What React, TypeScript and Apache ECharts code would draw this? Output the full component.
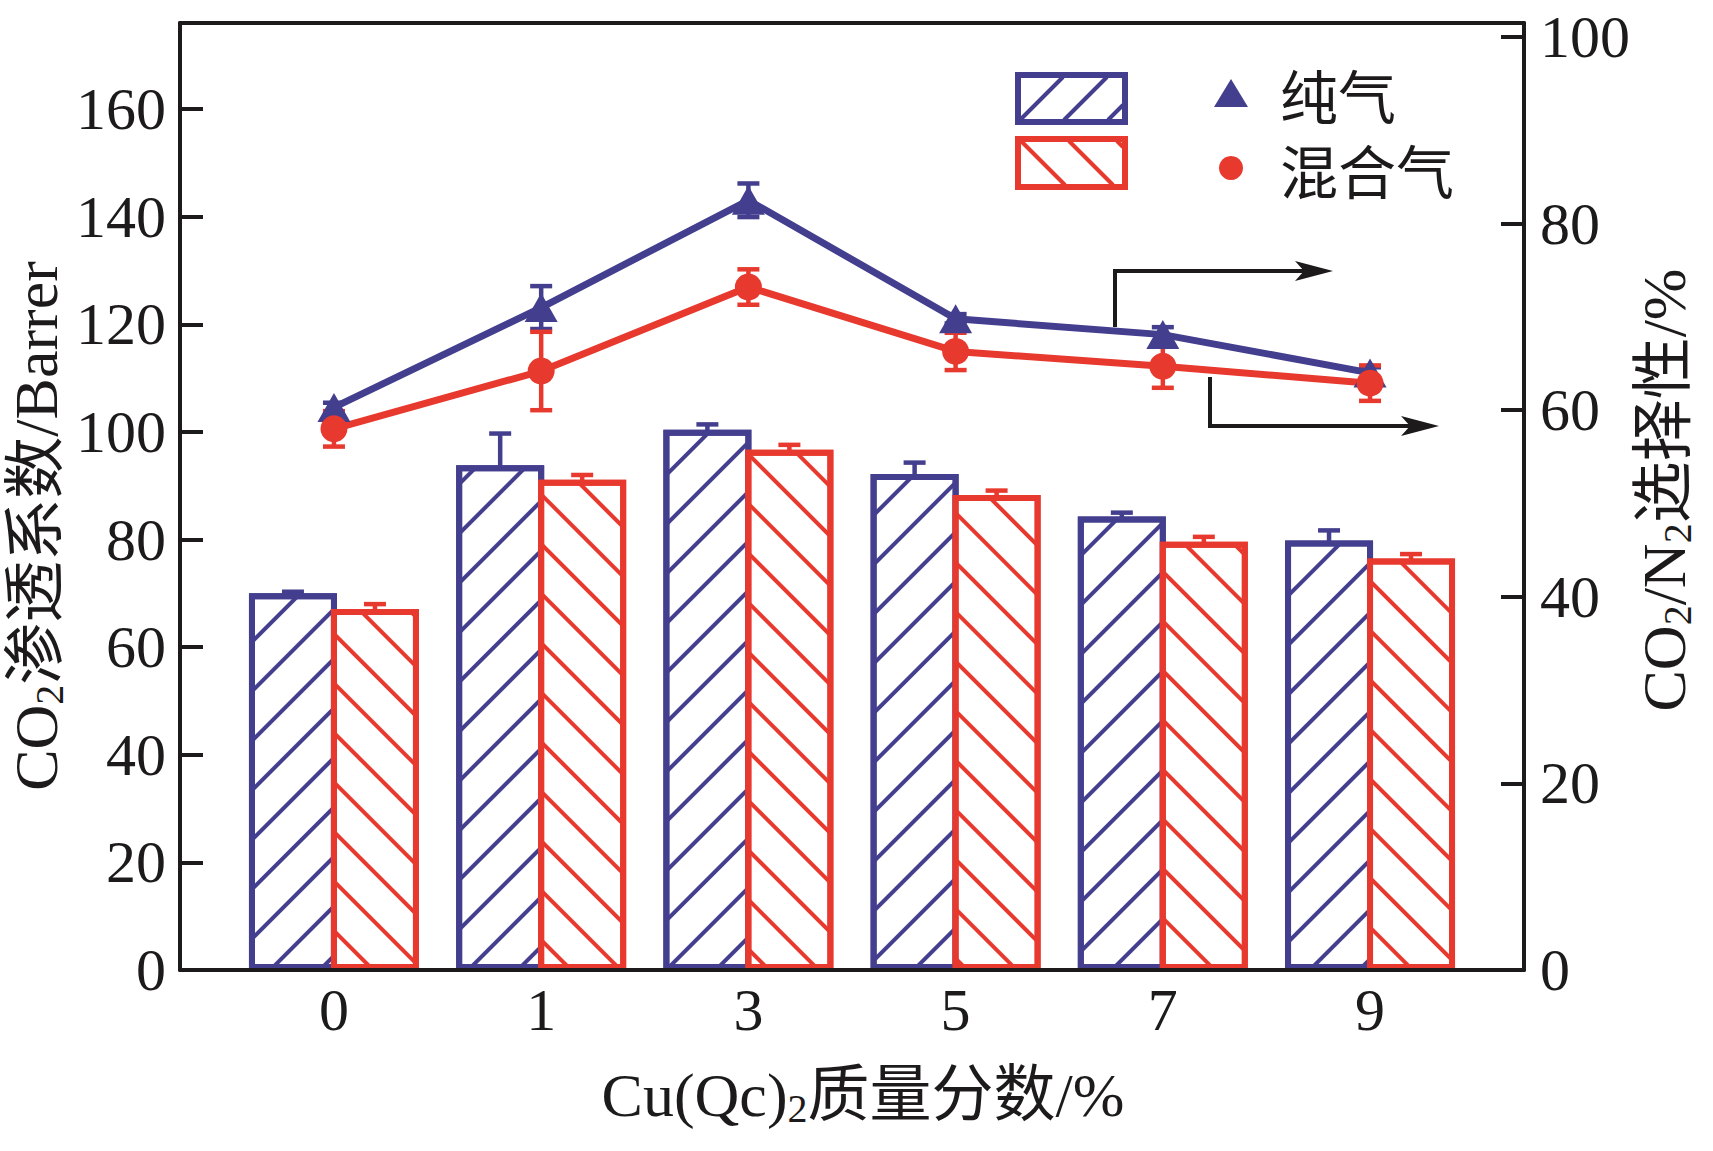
import React, { useEffect, useRef } from 'react';
import * as echarts from 'echarts';

// ---------------- data ----------------
const categories = ['0', '1', '3', '5', '7', '9'];

// CO2 permeability (Barrer), left axis
const pureBar = [70.0, 93.8, 100.4, 92.2, 84.3, 79.8];
const pureBarErr = [0.3, 5.9, 1.0, 2.1, 0.7, 1.9];
const mixBar = [67.1, 91.1, 96.7, 88.3, 79.6, 76.5];
const mixBarErr = [0.9, 0.9, 0.9, 0.8, 0.9, 0.8];

// CO2/N2 selectivity, right axis
const pureSel = [60.3, 71.0, 82.5, 69.8, 68.1, 64.0];
const pureSelErr = [0.5, 2.3, 1.8, 0.5, 0.8, 0.6];
const mixSel = [58.0, 64.2, 73.2, 66.3, 64.7, 62.9];
const mixSelErr = [1.9, 4.2, 1.9, 2.0, 2.3, 1.9];

const leftTickStep = 20;
const rightTickStep = 20;

// ---------------- style ----------------
const BLUE = '#433e8e';
const RED = '#e8392e';
const INK = '#1c1a1a';
const SERIF = '"Liberation Serif", "Times New Roman", "Noto Sans CJK SC", serif';
const CJK = '"Noto Sans CJK SC", sans-serif';
const MIXED = '"Liberation Serif", "Noto Sans CJK SC", serif';

function hatchLines(x0: number, y0: number, x1: number, y1: number, step: number, dir: '/' | '\\', c0: number, color: string) {
  const out: any[] = [];
  if (dir === '/') {
    // x + y = c
    for (let c = c0; c < x1 + y1; c += step) {
      const xa = Math.max(x0, c - y1);
      const xb = Math.min(x1, c - y0);
      if (xb - xa > 0.5) out.push({ type: 'line', shape: { x1: xa, y1: c - xa, x2: xb, y2: c - xb }, style: { stroke: color, lineWidth: 4 } });
    }
  } else {
    // x - y = c
    for (let c = c0; c < x1 - y0; c += step) {
      const xa = Math.max(x0, c + y0);
      const xb = Math.min(x1, c + y1);
      if (xb - xa > 0.5) out.push({ type: 'line', shape: { x1: xa, y1: xa - c, x2: xb, y2: xb - c }, style: { stroke: color, lineWidth: 4 } });
    }
  }
  return out;
}

function errSeries(vals: number[], errs: number[], color: string, yAxisIndex: number, offsetPx: number) {
  return {
    type: 'custom',
    xAxisIndex: 0,
    yAxisIndex,
    data: vals.map((v, i) => [i, v, errs[i]]),
    encode: { x: 0, y: 1 },
    silent: true,
    renderItem: (params: any, api: any) => {
      const x = api.value(0);
      const y = api.value(1);
      const e = api.value(2);
      const hi = api.coord([x, y + e]);
      const lo = api.coord([x, y - e]);
      const cx = hi[0] + offsetPx;
      const hw = 11;
      const st = { stroke: color, lineWidth: 4.5 };
      return {
        type: 'group',
        children: [
          { type: 'line', shape: { x1: cx, y1: hi[1], x2: cx, y2: lo[1] }, style: st },
          { type: 'line', shape: { x1: cx - hw, y1: hi[1], x2: cx + hw, y2: hi[1] }, style: st },
          { type: 'line', shape: { x1: cx - hw, y1: lo[1], x2: cx + hw, y2: lo[1] }, style: st },
        ],
      };
    },
  };
}

export default function App() {
  const ref = useRef<HTMLDivElement>(null);
  useEffect(() => {
    if (!ref.current) return;
    const chart = echarts.init(ref.current, undefined, { renderer: 'svg' });

    const xMin = -0.743;
    const xMax = 5.743;
    const tickLabel = { fontSize: 60, fontFamily: SERIF, color: INK };
    const axisLine = { show: true, onZero: false, lineStyle: { color: INK, width: 4 } };

    const richBase = {
      a: { fontSize: 62, fontFamily: MIXED, fill: INK },
      s: { fontSize: 40, fontFamily: SERIF, fill: INK, padding: [26, 0, 0, 0] },
    };

    const legendBlue = { x0: 1018, y0: 75, w: 107, h: 47 };
    const legendRed = { x0: 1018, y0: 139, w: 107, h: 48 };

    const barStyle = (color: string, rotation: number) => ({
      color: '#ffffff',
      borderColor: color,
      borderWidth: 6,
      decal: {
        symbol: 'rect',
        symbolSize: 1,
        color,
        dashArrayX: [1, 0],
        dashArrayY: [4, 31],
        rotation,
      },
    });

    const BAR_W = 88;
    const BAR_GAP = '-6.82%';
    const BAR_OFF = 41;

    const option: any = {
      animation: false,
      backgroundColor: '#ffffff',
      grid: { left: 180, top: 23, width: 1344, height: 947, outerBoundsMode: 'none', containLabel: false },
      xAxis: [
        {
          type: 'value',
          position: 'bottom',
          min: xMin,
          max: xMax,
          z: 10,
          axisLine,
          axisTick: { show: false },
          splitLine: { show: false },
          axisLabel: {
            ...tickLabel,
            margin: 10,
            customValues: [0, 1, 2, 3, 4, 5],
            formatter: (v: number) => (Number.isInteger(v) && categories[v] !== undefined ? categories[v] : ''),
          },
        },
        {
          type: 'value',
          position: 'top',
          min: xMin,
          max: xMax,
          z: 10,
          axisLine,
          axisTick: { show: false },
          axisLabel: { show: false },
          splitLine: { show: false },
        },
      ],
      yAxis: [
        {
          type: 'value',
          position: 'left',
          min: 0,
          max: 176,
          interval: leftTickStep,
          z: 10,
          axisLine,
          axisTick: { show: true, inside: true, length: 23, lineStyle: { color: INK, width: 4 } },
          splitLine: { show: false },
          axisLabel: { ...tickLabel, margin: 14, formatter: (v: number) => (v % leftTickStep === 0 ? String(v) : '') },
        },
        {
          type: 'value',
          position: 'right',
          min: 0,
          max: 101.5,
          interval: rightTickStep,
          z: 10,
          axisLine,
          axisTick: { show: true, inside: true, length: 23, lineStyle: { color: INK, width: 4 } },
          splitLine: { show: false },
          axisLabel: { ...tickLabel, margin: 16, formatter: (v: number) => (v % rightTickStep === 0 ? String(v) : '') },
        },
      ],
      series: [
        {
          type: 'bar',
          name: '纯气',
          xAxisIndex: 0,
          yAxisIndex: 0,
          barWidth: BAR_W,
          barGap: BAR_GAP,
          data: pureBar.map((v, i) => [i, v]),
          itemStyle: barStyle(BLUE, -Math.PI / 4),
        },
        {
          type: 'bar',
          name: '混合气',
          xAxisIndex: 0,
          yAxisIndex: 0,
          barWidth: BAR_W,
          barGap: BAR_GAP,
          data: mixBar.map((v, i) => [i, v]),
          itemStyle: barStyle(RED, Math.PI / 4),
        },
        errSeries(pureBar, pureBarErr, BLUE, 0, -BAR_OFF),
        errSeries(mixBar, mixBarErr, RED, 0, BAR_OFF),
        {
          type: 'line',
          name: '纯气选择性',
          xAxisIndex: 0,
          yAxisIndex: 1,
          data: pureSel.map((v, i) => [i, v]),
          symbol: 'triangle',
          symbolSize: [33, 29],
          lineStyle: { color: BLUE, width: 7 },
          itemStyle: { color: BLUE },
        },
        errSeries(pureSel, pureSelErr, BLUE, 1, 0),
        {
          type: 'line',
          name: '混合气选择性',
          xAxisIndex: 0,
          yAxisIndex: 1,
          data: mixSel.map((v, i) => [i, v]),
          symbol: 'circle',
          symbolSize: 27,
          lineStyle: { color: RED, width: 7 },
          itemStyle: { color: RED },
        },
        errSeries(mixSel, mixSelErr, RED, 1, 0),
      ],
      graphic: [
        // axis titles
        {
          type: 'text',
          x: 36,
          y: 526,
          rotation: Math.PI / 2,
          style: {
            text: '{a|CO}{s|2}{a|渗透系数/Barrer}',
            rich: richBase,
            fill: INK,
            align: 'center',
            verticalAlign: 'middle',
          },
        },
        {
          type: 'text',
          x: 1664,
          y: 490,
          rotation: Math.PI / 2,
          style: {
            text: '{a|CO}{s|2}{a|/N}{s|2}{a|选择性/%}',
            rich: richBase,
            fill: INK,
            align: 'center',
            verticalAlign: 'middle',
          },
        },
        {
          type: 'text',
          x: 863,
          y: 1095,
          style: {
            text: '{a|Cu(Qc)}{s|2}{a|质量分数/%}',
            rich: richBase,
            fill: INK,
            align: 'center',
            verticalAlign: 'middle',
          },
        },
        // legend
        {
          type: 'rect',
          shape: { x: legendBlue.x0, y: legendBlue.y0, width: legendBlue.w, height: legendBlue.h },
          style: { fill: '#fff', stroke: BLUE, lineWidth: 6 },
        },
        ...hatchLines(legendBlue.x0 + 2, legendBlue.y0 + 2, legendBlue.x0 + legendBlue.w - 2, legendBlue.y0 + legendBlue.h - 2, 44, '/', 1140, BLUE),
        {
          type: 'rect',
          shape: { x: legendRed.x0, y: legendRed.y0, width: legendRed.w, height: legendRed.h },
          style: { fill: '#fff', stroke: RED, lineWidth: 6 },
        },
        ...hatchLines(legendRed.x0 + 2, legendRed.y0 + 2, legendRed.x0 + legendRed.w - 2, legendRed.y0 + legendRed.h - 2, 48, '\\', 880, RED),
        {
          type: 'polygon',
          shape: { points: [[1231, 79], [1248, 107], [1214, 107]] },
          style: { fill: BLUE },
        },
        { type: 'circle', shape: { cx: 1231, cy: 168, r: 12 }, style: { fill: RED } },
        {
          type: 'text',
          x: 1280,
          y: 94,
          style: { text: '纯气', fontSize: 58, fontFamily: CJK, lineHeight: 60, fill: INK, align: 'left', verticalAlign: 'middle' },
        },
        {
          type: 'text',
          x: 1280,
          y: 169,
          style: { text: '混合气', fontSize: 58, fontFamily: CJK, lineHeight: 60, fill: INK, align: 'left', verticalAlign: 'middle' },
        },
        // arrows pointing to the right axis
        {
          type: 'polyline',
          shape: { points: [[1115, 327], [1115, 271], [1305, 271]] },
          style: { stroke: INK, lineWidth: 4, fill: null },
        },
        {
          type: 'polygon',
          shape: { points: [[1295, 261], [1333, 271], [1295, 281], [1304, 271]] },
          style: { fill: INK },
        },
        {
          type: 'polyline',
          shape: { points: [[1210, 377], [1210, 426], [1412, 426]] },
          style: { stroke: INK, lineWidth: 4, fill: null },
        },
        {
          type: 'polygon',
          shape: { points: [[1401, 416], [1439, 426], [1401, 436], [1410, 426]] },
          style: { fill: INK },
        },
      ],
    };

    chart.setOption(option);
    return () => chart.dispose();
  }, []);

  return (
    <div
      ref={ref}
      style={{ position: 'fixed', left: 0, top: 0, width: '1713px', height: '1151px', background: '#fff' }}
    />
  );
}
